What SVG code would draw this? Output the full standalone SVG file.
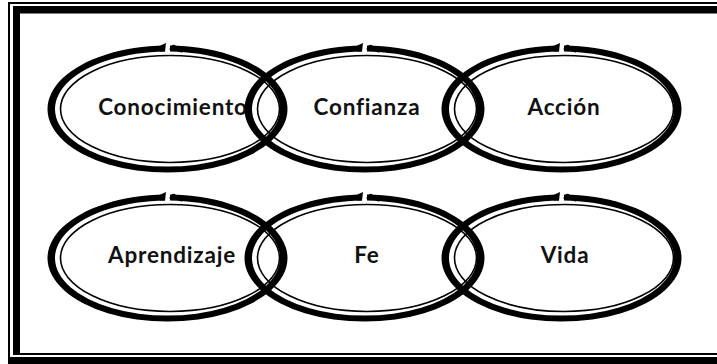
<svg xmlns="http://www.w3.org/2000/svg" xmlns:xlink="http://www.w3.org/1999/xlink" width="717" height="364" viewBox="0 0 717 364">
  <style>
    .band { fill: #000; }
    .thin { fill: none; stroke: #000; stroke-width: 1.6; }
    .hook { fill: none; stroke: #000; stroke-width: 2; stroke-linecap: round; stroke-linejoin: round; }
    .label { font-family: Lato, "Liberation Sans", sans-serif; font-weight: bold; font-size: 22.5px; letter-spacing: 0.8px; fill: #111; text-anchor: middle; }
    .frame { fill: #000; }
  </style>
  <defs>
    <!-- split ring: thick outer band with a small break at the top, plus a thin inner line -->
    <g id="ring">
      <path class="band" d="M 0,-63.4 A 120 63.5 0 1 1 -5,-63.4 L -5,-57.4 A 112.5 57.5 0 1 0 0,-57.4 Z"/>
      <ellipse class="thin" cx="0" cy="0" rx="109.5" ry="53.5"/>
      <!-- pointed tip of the left end -->
      <path class="band" d="M -10,-63.2 L -4,-66 L -5,-57.5 L -10,-57.4 Z"/>
      <!-- curled right end running down into the inner line -->
      <path class="hook" d="M 0.5,-60 q 2,-5 5,-2 q 1.5,3 6,4.5"/>
    </g>
  </defs>

  <rect width="717" height="364" fill="#fff"/>

  <!-- double border frame -->
  <g id="frame">
    <rect class="frame" x="8" y="2" width="709" height="2"/>
    <rect class="frame" x="8" y="2" width="2" height="356"/>
    <rect class="frame" x="8" y="357" width="709" height="7"/>
    <rect class="frame" x="13" y="6" width="704" height="7.5"/>
    <rect class="frame" x="13" y="6" width="7" height="348"/>
    <rect class="frame" x="13" y="353" width="704" height="2"/>
  </g>

  <!-- top row -->
  <g id="conocimiento">
    <use xlink:href="#ring" href="#ring" transform="translate(170,109)"/>
    <text class="label" x="173" y="115">Conocimiento</text>
  </g>
  <g id="confianza">
    <use xlink:href="#ring" href="#ring" transform="translate(367,109)"/>
    <text class="label" x="367" y="115">Confianza</text>
  </g>
  <g id="accion">
    <use xlink:href="#ring" href="#ring" transform="translate(564,109)"/>
    <text class="label" x="564" y="115">Acción</text>
  </g>

  <!-- bottom row -->
  <g id="aprendizaje">
    <use xlink:href="#ring" href="#ring" transform="translate(170,258)"/>
    <text class="label" x="172" y="263">Aprendizaje</text>
  </g>
  <g id="fe">
    <use xlink:href="#ring" href="#ring" transform="translate(367,258)"/>
    <text class="label" x="367" y="263">Fe</text>
  </g>
  <g id="vida">
    <use xlink:href="#ring" href="#ring" transform="translate(564,258)"/>
    <text class="label" x="565" y="263">Vida</text>
  </g>
</svg>
